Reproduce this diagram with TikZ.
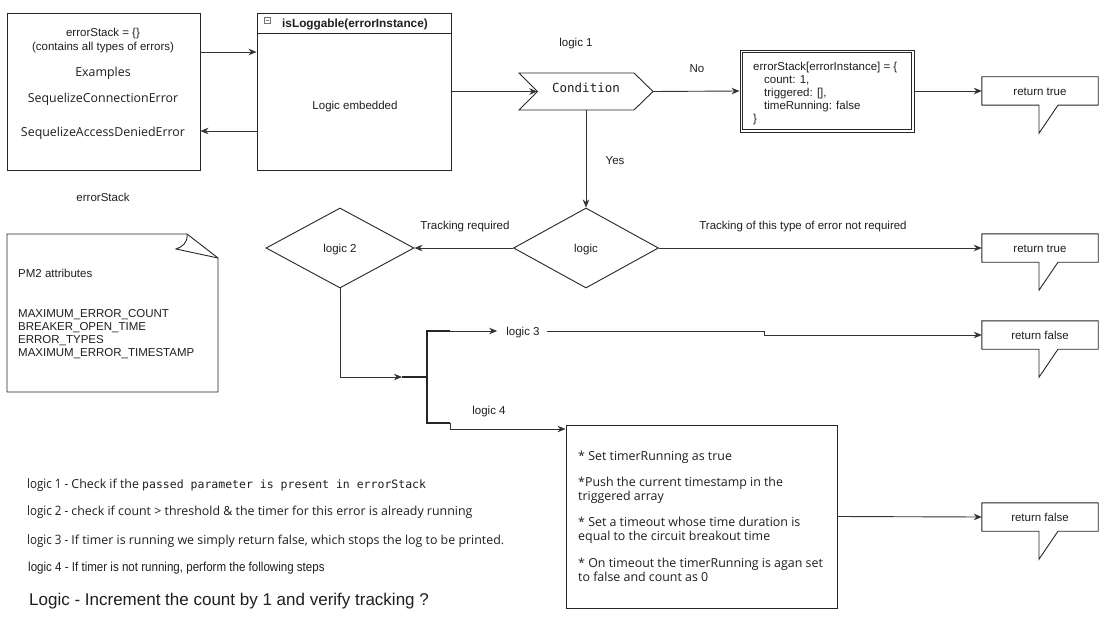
\documentclass[tikz,border=0pt]{standalone}
\usepackage{fontspec}
\setmainfont{Liberation Sans}
\newfontfamily\opensans{Open Sans}
\newfontfamily\dmono{DejaVu Sans Mono}
\usetikzlibrary{arrows.meta,shapes.geometric,calc}
\newcommand{\drawretcallout}[1]{%
  \draw[shp] (#1.south west) -- (#1.north west) -- (#1.north east) -- (#1.south east)
    -- ($(#1.south)+(18,0)$) -- ($(#1.south)+(-1,28)$) -- ($(#1.south)+(-1,0)$) -- cycle;}
\newcommand{\narrowtxt}[1]{\scalebox{0.89}[1]{\fontsize{13}{15}\selectfont #1}}
\begin{document}
\begin{tikzpicture}[x=1pt,y=-1pt,
  every node/.style={font=\fontsize{11.5}{13}\selectfont, inner sep=0pt, text=black!88, text height=8.2pt, text depth=0pt},
  shp/.style={draw=black!85, line width=0.9pt},
  conn/.style={draw=black!80, line width=0.9pt},
  arr/.style={conn,-{Stealth[length=8pt,width=6.5pt,inset=2.5pt]}},
  thickbar/.style={draw=black!85, line width=2pt},
  lefttxt/.style={anchor=west},
  osans/.style={font=\opensans\fontsize{12.4}{14}\selectfont},
  retnode/.style={minimum width=116pt, minimum height=28pt},
  decision/.style={shp, diamond},
  ]
\useasboundingbox[fill=white] (0,0) rectangle (1105,623);

% ---------- errorStack box ----------
\node[shp, minimum width=193pt, minimum height=157pt] (es) at (103.5,91.5) {};
\node (es1) at (103,32) {errorStack = \{\}};
\node (es2) at (103,46) {(contains all types of errors)};
\node[osans] (es3) at (103,72) {Examples};
\node[osans] (es4) at (103,98) {SequelizeConnectionError};
\node[osans] (es5) at (103,132) {SequelizeAccessDeniedError};
\node (eslabel) at (103,197) {errorStack};

% ---------- isLoggable box ----------
\node[shp, minimum width=194pt, minimum height=157pt] (il) at (354,91.5) {};
\draw[shp] (257,33) -- (451,33);
\draw[draw=black!55, line width=0.6pt] (264,17) rectangle (270,23);
\draw[draw=black!55, line width=0.6pt] (265.5,20) -- (268.5,20);
\node[lefttxt, font=\bfseries\fontsize{11.8}{13}\selectfont] (iltitle) at (282,23.5) {isLoggable(errorInstance)};
\node (ilbody) at (355,105) {Logic embedded};

\draw[arr] ([yshift=39.5pt]es.east) -- ([yshift=39.5pt]il.west);
\draw[arr] ([yshift=-39.5pt]il.west) -- ([yshift=-39.5pt]es.east);

% ---------- Condition ----------
\node (lg1lab) at (576,42) {logic 1};
\draw[shp] (519,73) -- (634,73) -- (653,91.5) -- (634,110) -- (519,110) -- (537.5,91.5) -- cycle;
\node[font=\dmono\fontsize{12.5}{14}\selectfont, minimum width=134pt, minimum height=37pt] (cond) at (586,91.5) {\raisebox{3.5pt}{Condition}};
\draw[arr] (il.east) -- ([xshift=18.5pt]cond.west);
\node (nolab) at (697,68) {No};
\node (yeslab) at (615,160) {Yes};

% ---------- errorStack[errorInstance] ----------
\node[shp, minimum width=174pt, minimum height=82pt] (esi) at (827,91) {};
\draw[shp] ([xshift=3pt,yshift=-3pt]esi.north west) rectangle ([xshift=-3pt,yshift=3pt]esi.south east);
\node[lefttxt] (esi1) at (753,66) {errorStack[errorInstance] = \{};
\node[lefttxt] (esi2) at (764,79) {count: 1,};
\node[lefttxt] (esi3) at (764,92) {triggered: [],};
\node[lefttxt] (esi4) at (764,105) {timeRunning: false};
\node[lefttxt] (esi5) at (753,118) {\}};
\draw[arr] (cond.east) -- (esi.west);

% ---------- return callouts ----------
\node[retnode] (rt1) at (1040,91) {return true};
\drawretcallout{rt1}
\node[retnode] (rt2) at (1040,248) {return true};
\drawretcallout{rt2}
\node[retnode] (rf1) at (1040,335) {return false};
\drawretcallout{rf1}
\node[retnode] (rf2) at (1040,517) {return false};
\drawretcallout{rf2}

\draw[arr] (esi.east) -- (rt1.west);

% ---------- decisions ----------
\node[decision, minimum width=145pt, minimum height=80pt] (lg) at (586,248) {logic};
\node[decision, minimum width=148pt, minimum height=80pt] (lg2) at (340,248) {logic 2};
\draw[arr] (cond.south) -- (lg.north);
\draw[arr] (lg.west) -- (lg2.east);
\draw[arr] (lg.east) -- (rt2.west);
\node (trlab) at (465,225) {Tracking required};
\node (ntrlab) at (803,225) {Tracking of this type of error not required};

% ---------- branching ----------
\coordinate (j1) at (402,377);
\coordinate (bt) at (450,331);
\coordinate (bb) at (450,423);
\draw[arr] (lg2.south) |- (j1);
\draw[thickbar] (j1) -- (427,377);
\draw[thickbar] (bt) -- (427,331) -- (427,423) -- (bb);
\node (l3) at (523,331) {logic 3};
\draw[arr] (bt) -- ([xshift=-9pt]l3.west);
\draw[arr] ([xshift=7pt]l3.east) -- (764,331) -- (764,335) -- (rf1.west);
\node (l4) at (489,410) {logic 4};

% ---------- process box ----------
\node[shp, minimum width=271pt, minimum height=183pt] (pb) at (701.5,516.5) {};
\draw[arr] (bb) -- (450,429) -- ([yshift=87.5pt]pb.west);
\node[lefttxt, osans] (pb1) at (578,456) {* Set timerRunning as true};
\node[lefttxt, osans] (pb2) at (578,482) {*Push the current timestamp in the};
\node[lefttxt, osans] (pb3) at (578,496) {triggered array};
\node[lefttxt, osans] (pb4) at (578,522) {* Set a timeout whose time duration is};
\node[lefttxt, osans] (pb5) at (578,536) {equal to the circuit breakout time};
\node[lefttxt, osans] (pb6) at (578,563) {* On timeout the timerRunning is agan set};
\node[lefttxt, osans] (pb7) at (578,577) {to false and count as 0};
\draw[arr] (pb.east) -- (rf2.west);

% ---------- PM2 note ----------
\draw[shp] (7,234) -- (187,234) -- (218,258) -- (218,392) -- (7,392) -- cycle;
\draw[shp] (187,234) .. controls (188,243) and (182,247) .. (176,249) -- (218,258);
\node[lefttxt] (pm0) at (18,273) {PM2 attributes};
\node[lefttxt] (pm1) at (18,313) {MAXIMUM\_ERROR\_COUNT};
\node[lefttxt] (pm2) at (18,326) {BREAKER\_OPEN\_TIME};
\node[lefttxt] (pm3) at (18,339) {ERROR\_TYPES};
\node[lefttxt] (pm4) at (18,352) {MAXIMUM\_ERROR\_TIMESTAMP};

% ---------- legend ----------
\node[lefttxt, osans] (lgd1) at (27,484) {\narrowtxt{logic 1 -} Check if the {\dmono\fontsize{11.5}{13}\selectfont passed parameter is present in errorStack}};
\node[lefttxt, osans] (lgd2) at (27,511) {\narrowtxt{logic 2 -} check if count > threshold \& the timer for this error is already running};
\node[lefttxt, osans] (lgd3) at (27,540) {\narrowtxt{logic 3 -} If timer is running we simply return false, which stops the log to be printed.};
\node[lefttxt] (lgd4) at (28,567) {\narrowtxt{logic 4 - If timer is not running, perform the following steps}};
\node[lefttxt, font=\fontsize{17}{20}\selectfont, text height=12pt] (lgd5) at (29,599) {Logic - Increment the count by 1 and verify tracking ?};
\end{tikzpicture}
\end{document}
